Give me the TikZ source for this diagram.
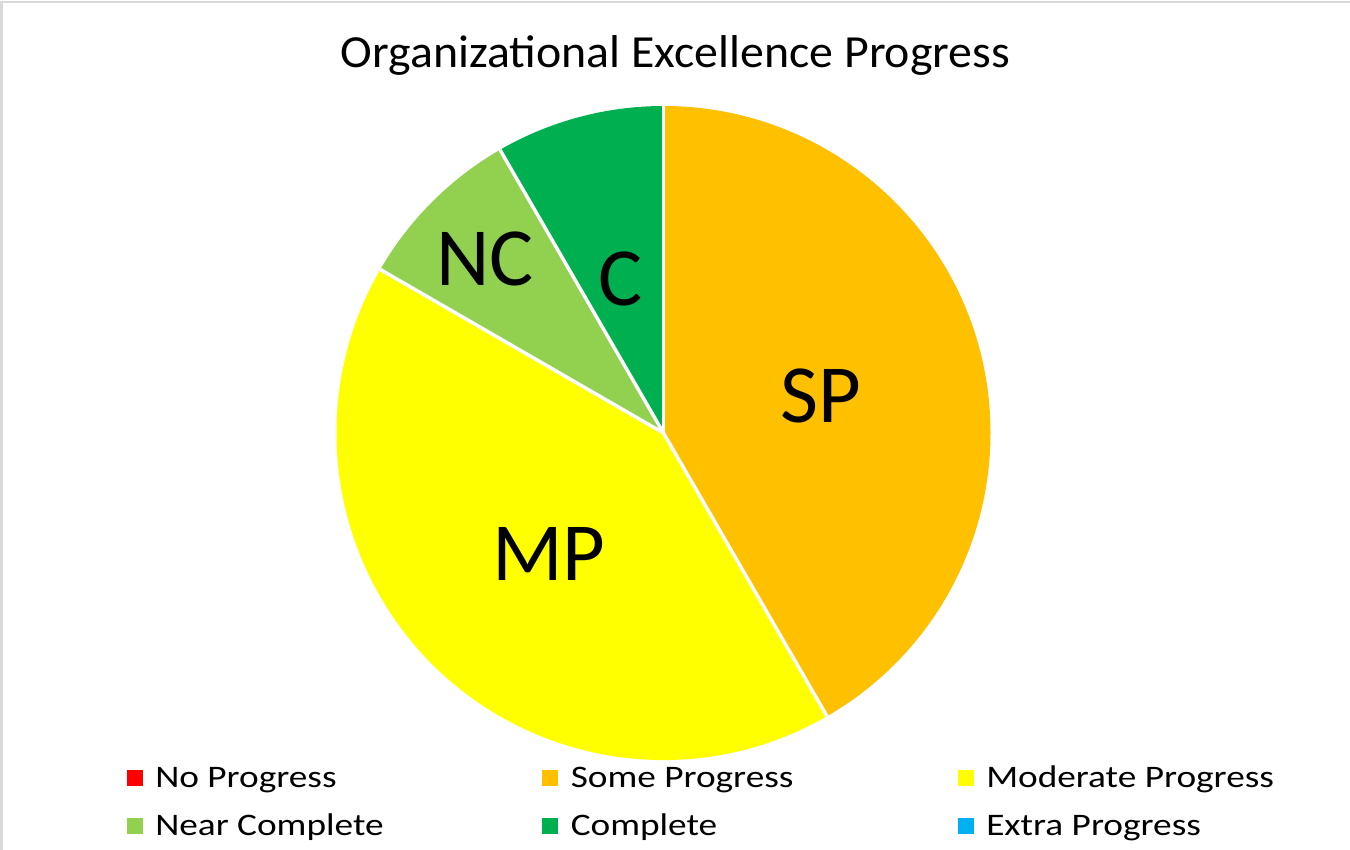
\documentclass[tikz,border=0pt]{standalone}
\usepackage{fontspec}
\setmainfont{Carlito}
\definecolor{cSP}{HTML}{FFC000}
\definecolor{cMP}{HTML}{FFFF00}
\definecolor{cNC}{HTML}{92D050}
\definecolor{cC}{HTML}{00B050}
\definecolor{cNP}{HTML}{FF0000}
\definecolor{cEP}{HTML}{00B0F0}
\definecolor{frame}{HTML}{D9D9D9}
\newcommand{\legstretch}[1]{\scalebox{1.19}[1]{#1}}
\begin{document}
\begin{tikzpicture}[x=0.75pt,y=0.75pt,
  slice/.style={draw=white,line width=2.6pt,line join=round},
  slicelabel/.style={font=\fontsize{62pt}{62pt}\selectfont,anchor=base,inner sep=0pt},
  legsq/.style={minimum size=12pt,inner sep=0pt,draw=none},
  legtxt/.style={font=\fontsize{23.5pt}{23.5pt}\selectfont,anchor=base west,inner sep=0pt}]
\useasboundingbox (0,0) rectangle (1350,-850);
\fill[white] (0,0) rectangle (1350,-850);
\draw[frame,line width=1.5pt] (1.5,-850) -- (1.5,-1.5) -- (1350,-1.5);
\node[font=\fontsize{34.5pt}{34.5pt}\selectfont,anchor=base,inner sep=0pt] (title) at (675.5,-67) {\scalebox{1.04}[1]{Organizational Excellence Progress}};
\coordinate (c) at (663.5,-433);
\def\R{327}
\fill[cSP] (c) -- ++(90:\R) arc[start angle=90,end angle=-60,radius=\R] -- cycle;
\fill[cMP] (c) -- ++(-60:\R) arc[start angle=-60,end angle=-210,radius=\R] -- cycle;
\fill[cNC] (c) -- ++(150:\R) arc[start angle=150,end angle=120,radius=\R] -- cycle;
\fill[cC] (c) -- ++(120:\R) arc[start angle=120,end angle=90,radius=\R] -- cycle;
\foreach \a in {90,-60,150,120} \draw[slice] (c) -- ++(\a:\R);
\node[slicelabel] (lSP) at (821,-422) {SP};
\node[slicelabel] (lMP) at (549,-580) {MP};
\node[slicelabel] (lNC) at (485,-285) {NC};
\node[slicelabel] (lC) at (621,-305) {C};
\node[legsq,fill=cNP] (s1) at (134.5,-777.5) {};
\node[legtxt] (t1) at (155,-787) {\legstretch{No Progress}};
\node[legsq,fill=cSP] (s2) at (550,-777.5) {};
\node[legtxt] (t2) at (570.5,-787) {\legstretch{Some Progress}};
\node[legsq,fill=cMP] (s3) at (965.5,-777.5) {};
\node[legtxt] (t3) at (986,-787) {\legstretch{Moderate Progress}};
\node[legsq,fill=cNC] (s4) at (134.5,-826) {};
\node[legtxt] (t4) at (155,-835.5) {\legstretch{Near Complete}};
\node[legsq,fill=cC] (s5) at (550,-826) {};
\node[legtxt] (t5) at (570.5,-835.5) {\legstretch{Complete}};
\node[legsq,fill=cEP] (s6) at (965.5,-826) {};
\node[legtxt] (t6) at (986,-835.5) {\legstretch{Extra Progress}};
\end{tikzpicture}
\end{document}
